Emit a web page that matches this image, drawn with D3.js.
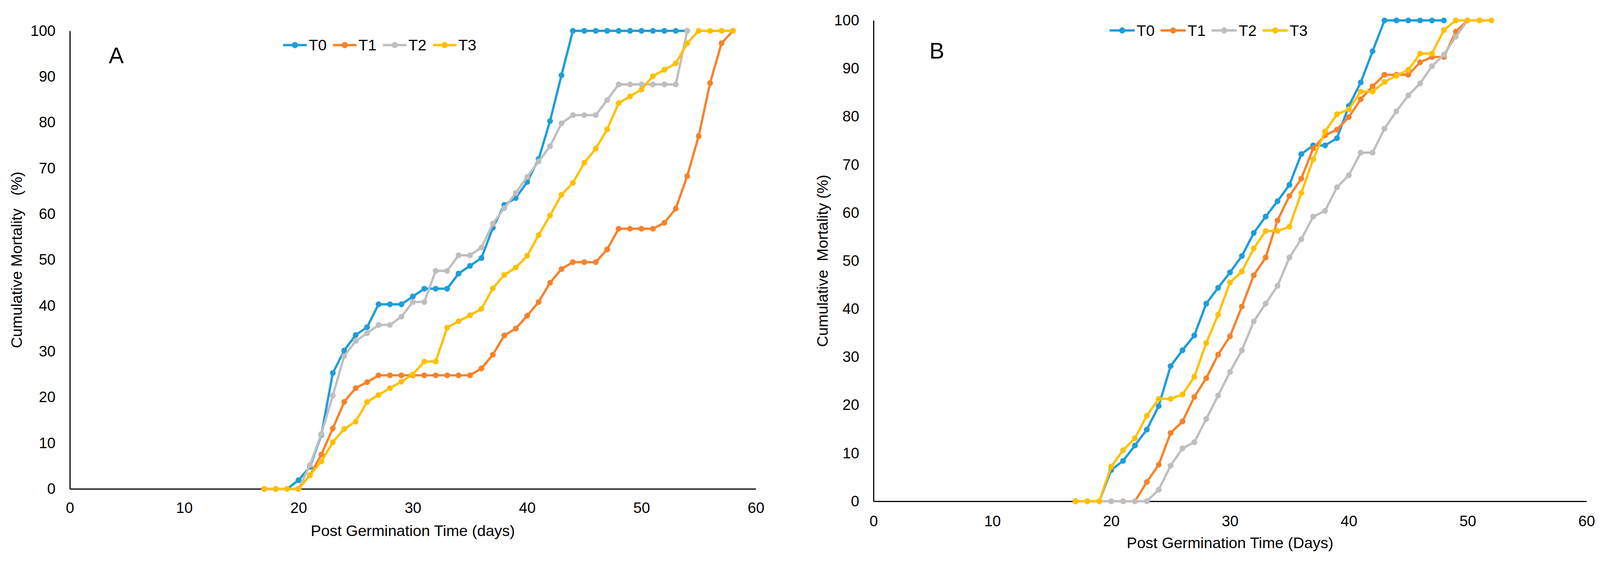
<!DOCTYPE html>
<html>
<head>
<meta charset="utf-8">
<script src="https://cdn.jsdelivr.net/npm/d3@7"></script>
<style>
  html, body { margin: 0; padding: 0; background: #fff; overflow: hidden; }
  svg { display: block; width: 100vw; height: 100vh; }
  text { font-family: "Liberation Sans", Arial, sans-serif; fill: #000; }
</style>
</head>
<body>
<svg id="chart" viewBox="0 0 4147 1437" preserveAspectRatio="xMidYMid meet"></svg>
<script>
// ---------------- DATA ----------------
const seriesNames = ["T0", "T1", "T2", "T3"];
const xTicks = [0, 10, 20, 30, 40, 50, 60];
const yTicks = [0, 10, 20, 30, 40, 50, 60, 70, 80, 90, 100];

// Panel A
const daysA = [17,18,19,20,21,22,23,24,25,26,27,28,29,30,31,32,33,34,35,36,37,38,39,40,41,42,43,44,45,46,47,48,49,50,51,52,53,54,55,56,57,58];
const a_T0 = [0,0,0,1.9,4.8,11.8,25.3,30.2,33.6,35.3,40.3,40.3,40.3,42,43.7,43.7,43.7,47,48.7,50.4,57,62,63.5,67,72,80.3,90.3,100,100,100,100,100,100,100,100,100,100,100,null,null,null,null];
const a_T1 = [0,0,0,0,3,7.5,13.2,19,22,23.3,24.8,24.8,24.8,24.8,24.8,24.8,24.8,24.8,24.8,26.3,29.3,33.5,35,37.8,40.8,45,48,49.5,49.5,49.5,52.3,56.8,56.8,56.8,56.8,58.1,61.2,68.3,77,88.6,97.3,100];
const a_T2 = [0,0,0,0,5.2,12,20.4,29,32.3,34,35.8,35.8,37.6,40.8,40.8,47.6,47.6,51,51,52.7,57.9,61.3,64.6,68.1,71.5,74.8,79.8,81.6,81.6,81.6,84.9,88.3,88.3,88.3,88.3,88.3,88.3,100,null,null,null,null];
const a_T3 = [0,0,0,0,3,6,10.2,13.1,14.7,19,20.5,22,23.4,25,27.8,27.8,35.2,36.6,37.9,39.3,43.8,46.7,48.3,50.9,55.4,59.7,64.2,66.8,71.2,74.3,78.5,84.2,85.7,87.2,90.1,91.5,92.9,97.3,100,100,100,100];

// Panel B
const daysB = [17,18,19,20,21,22,23,24,25,26,27,28,29,30,31,32,33,34,35,36,37,38,39,40,41,42,43,44,45,46,47,48,49,50,51,52];
const b_T0 = [0,0,0,6.5,8.4,11.6,14.9,19.8,28.1,31.4,34.5,41.1,44.4,47.6,51,55.8,59.2,62.4,65.8,72.2,74,74,75.5,82.2,87.1,93.6,100,100,100,100,100,100,null,null,null,null];
const b_T1 = [0,0,0,0,0,0,4,7.6,14.2,16.6,21.7,25.6,30.5,34.3,40.5,47,50.7,58.4,63.5,67.1,73.4,76.1,77.3,79.9,83.6,86.3,88.7,88.7,88.7,91.3,92.4,92.4,97.7,100,null,null];
const b_T2 = [0,0,0,0,0,0,0,2.4,7.4,11,12.3,17.1,22,26.9,31.4,37.4,41.1,44.8,50.7,54.5,59.2,60.4,65.3,67.8,72.5,72.5,77.5,81.1,84.4,86.9,90.5,92.9,96.6,100,null,null];
const b_T3 = [0,0,0,7.2,10.6,13.1,17.8,21.3,21.3,22.2,25.9,32.9,38.8,45.5,47.8,52.6,56.2,56.2,57.1,64.1,71.1,76.9,80.5,81.5,85.2,85.2,87.2,88.5,89.7,93.1,93.1,98,100,100,100,100];

// ---------------- STYLE / LAYOUT ----------------
const colors = ["#1E9DDA", "#F8822B", "#BFBFBF", "#FFC000"];
const fontSize = 39;

const panels = [
  {
    letter: "A", letterX: 282, letterY: 155,
    days: daysA, series: [a_T0, a_T1, a_T2, a_T3],
    x0: 181, x1: 1959, y0: 1259, y1: 71,
    xTitle: "Post Germination Time (days)", xTitleY: 1381,
    yTitle: "Cumulative Mortality   (%)", yTitleX: 43,
    legendX: 734, legendY: 108, legendStep: 129.3, legendLine: 61,
    xPad: 35
  },
  {
    letter: "B", letterX: 2409, letterY: 143,
    days: daysB, series: [b_T0, b_T1, b_T2, b_T3],
    x0: 2264, x1: 4112, y0: 1291, y1: 44,
    xTitle: "Post Germination Time (Days)", xTitleY: 1413,
    yTitle: "Cumulative  Mortality (%)", yTitleX: 2131,
    legendX: 2876, legendY: 70, legendStep: 132.2, legendLine: 65,
    xPad: 37
  }
];

const svg = d3.select("#chart");

panels.forEach(p => {
  const x = d3.scaleLinear().domain([0, 60]).range([p.x0, p.x1]);
  const y = d3.scaleLinear().domain([0, 100]).range([p.y0, p.y1]);
  const g = svg.append("g");

  // axes
  const xAxis = g.append("g")
    .attr("transform", `translate(0,${p.y0})`)
    .call(d3.axisBottom(x).tickValues(xTicks).tickSize(0).tickPadding(p.xPad).tickFormat(d3.format("d")));
  const yAxis = g.append("g")
    .attr("transform", `translate(${p.x0},0)`)
    .call(d3.axisLeft(y).tickValues(yTicks).tickSize(0).tickPadding(37).tickFormat(d3.format("d")));
  [xAxis, yAxis].forEach(ax => {
    ax.select(".domain").attr("stroke", "#000").attr("stroke-width", 3);
    ax.selectAll("text").attr("font-size", fontSize)
      .attr("font-family", "'Liberation Sans', Arial, sans-serif").attr("fill", "#000");
  });

  // axis titles
  g.append("text")
    .attr("x", (p.x0 + p.x1) / 2).attr("y", p.xTitleY)
    .attr("text-anchor", "middle").attr("font-size", 40)
    .text(p.xTitle);
  g.append("text")
    .attr("transform", `translate(${p.yTitleX},${(p.y0 + p.y1) / 2}) rotate(-90)`)
    .attr("text-anchor", "middle").attr("dominant-baseline", "central")
    .attr("font-size", 40).style("white-space", "pre")
    .text(p.yTitle);

  // panel letter
  g.append("text").attr("x", p.letterX).attr("y", p.letterY)
    .attr("font-size", 58).text(p.letter);

  // series
  const line = d3.line()
    .defined(d => d.v !== null)
    .x(d => x(d.day)).y(d => y(d.v));

  p.series.forEach((vals, i) => {
    const pts = p.days.map((day, k) => ({ day, v: vals[k] }));
    const sg = g.append("g");
    sg.append("path").datum(pts)
      .attr("d", line).attr("fill", "none")
      .attr("stroke", colors[i]).attr("stroke-width", 6)
      .attr("stroke-linejoin", "round");
    sg.selectAll("circle").data(pts.filter(d => d.v !== null)).enter()
      .append("circle")
      .attr("cx", d => x(d.day)).attr("cy", d => y(d.v))
      .attr("r", 7.5).attr("fill", colors[i]);
  });

  // legend
  const lg = g.append("g");
  seriesNames.forEach((name, i) => {
    const lx = p.legendX + i * p.legendStep;
    lg.append("line")
      .attr("x1", lx).attr("x2", lx + p.legendLine)
      .attr("y1", p.legendY).attr("y2", p.legendY)
      .attr("stroke", colors[i]).attr("stroke-width", 6);
    lg.append("circle").attr("cx", lx + p.legendLine / 2).attr("cy", p.legendY)
      .attr("r", 8).attr("fill", colors[i]);
    lg.append("text").attr("x", lx + p.legendLine + 5).attr("y", p.legendY)
      .attr("dominant-baseline", "central").attr("font-size", 40)
      .text(name);
  });
});
</script>
</body>
</html>
